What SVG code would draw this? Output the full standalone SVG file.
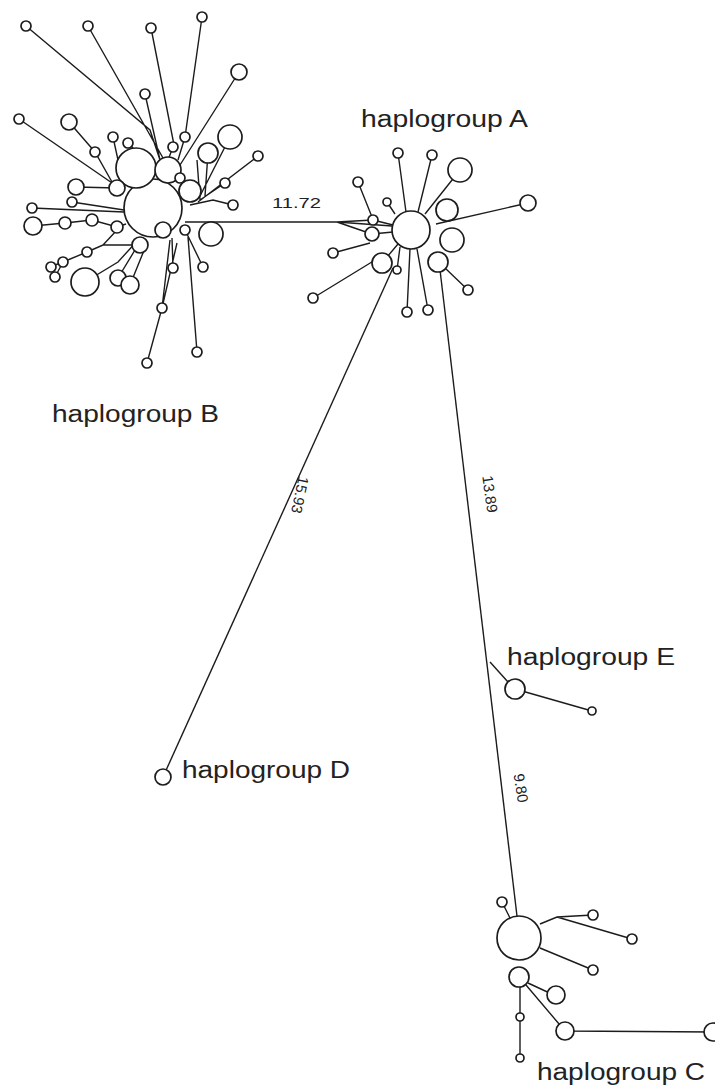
<svg xmlns="http://www.w3.org/2000/svg" width="715" height="1091" viewBox="0 0 715 1091">
<style>
.e{stroke:#1c1c1c;stroke-width:1.4;fill:none}
.n circle{fill:#fff;stroke:#1c1c1c;stroke-width:1.7}
.lab{font-family:"Liberation Sans",Arial,sans-serif;font-size:23px;fill:#222}
.num{font-family:"Liberation Sans",Arial,sans-serif;font-size:15px;fill:#222}
</style>
<rect width="715" height="1091" fill="#fff"/>
<g id="connectors" class="e">
<path d="M185,222 L337,222 L373,220 M337,222 L366,232 M337,222 L392,226"/>
<path d="M393,268 L163,777"/>
<path d="M440,270 L517,916"/>
<path d="M490,662 L508,682"/>
<path d="M398,153 L406,212 M432,155 L418,212 M460,170 L425,214 M528,203 L436,224 M445,268 L468,290 M407,312 L410,249 M428,310 L417,249 M333,253 L370,243 M313,298 L380,257 M358,182 L372,217 M387,202 L395,214 M373,220 L393,225 M372,234 L393,232 M397,270 L400,247 M382,263 L398,244"/>
<path d="M26,26 L150,130 L160,160 M88,26 L163,158 M151,28 L175,150 M202,17 L185,137 L178,160 M239,72 L180,165 M145,94 L160,160"/>
<path d="M19,119 L115,185 M69,122 L95,152 L112,182 M113,137 L118,160 M128,143 L135,150 M173,147 L168,160"/>
<path d="M230,137 L200,196 M208,153 L205,196 M197,160 L200,200 M258,156 L198,202 M225,183 L200,200 M233,205 L213,200 L190,205 M180,178 L185,190"/>
<path d="M76,187 L117,188 M72,202 L124,210 M32,208 L124,212 M33,226 L65,223 L92,220 L117,227 L126,224"/>
<path d="M87,252 L103,245 L140,245 M103,245 L117,230 M63,262 L87,252 M50,267 L63,262 M55,277 L63,262 M85,282 L118,262 L138,240 M118,278 L135,250 M130,285 L145,248"/>
<path d="M147,363 L162,308 L177,243 M162,308 L170,240 M197,352 L188,237 M203,267 L187,234 M173,268 L172,238 M163,230 L155,236"/>
<path d="M515,689 L592,711"/>
<path d="M502,902 L510,918 M540,924 L557,917 L593,915 M557,917 L632,939 M540,948 L593,970 M528,983 L556,996 M526,985 L565,1031 L713,1032 M520,987 L520,1058"/>
</g>
<g class="n">
<g id="A0"><circle cx="411" cy="230" r="19"/></g>
<g id="A1"><circle cx="398" cy="153" r="5"/></g>
<g id="A2"><circle cx="432" cy="155" r="5"/></g>
<g id="A3"><circle cx="460" cy="170" r="12"/></g>
<g id="A4"><circle cx="528" cy="203" r="8"/></g>
<g id="A5"><circle cx="447" cy="210" r="11"/></g>
<g id="A6"><circle cx="452" cy="240" r="12"/></g>
<g id="A7"><circle cx="438" cy="262" r="10"/></g>
<g id="A8"><circle cx="468" cy="290" r="5"/></g>
<g id="A9"><circle cx="407" cy="312" r="5"/></g>
<g id="A10"><circle cx="428" cy="310" r="5"/></g>
<g id="A11"><circle cx="382" cy="263" r="10"/></g>
<g id="A12"><circle cx="397" cy="270" r="4"/></g>
<g id="A13"><circle cx="333" cy="253" r="5"/></g>
<g id="A14"><circle cx="313" cy="298" r="5"/></g>
<g id="A15"><circle cx="358" cy="182" r="5"/></g>
<g id="A16"><circle cx="387" cy="202" r="4"/></g>
<g id="A17"><circle cx="373" cy="220" r="5"/></g>
<g id="A18"><circle cx="372" cy="234" r="7"/></g>
<g id="B0"><circle cx="153" cy="208" r="29"/></g>
<g id="B1"><circle cx="136" cy="168" r="20"/></g>
<g id="B2"><circle cx="168" cy="170" r="13"/></g>
<g id="B3"><circle cx="26" cy="26" r="5"/></g>
<g id="B4"><circle cx="88" cy="26" r="5"/></g>
<g id="B5"><circle cx="151" cy="28" r="5"/></g>
<g id="B6"><circle cx="202" cy="17" r="5"/></g>
<g id="B7"><circle cx="239" cy="72" r="8"/></g>
<g id="B8"><circle cx="145" cy="94" r="5"/></g>
<g id="B9"><circle cx="19" cy="119" r="5"/></g>
<g id="B10"><circle cx="69" cy="122" r="8"/></g>
<g id="B11"><circle cx="95" cy="152" r="5"/></g>
<g id="B12"><circle cx="113" cy="137" r="5"/></g>
<g id="B13"><circle cx="128" cy="143" r="5"/></g>
<g id="B14"><circle cx="185" cy="137" r="5"/></g>
<g id="B15"><circle cx="173" cy="147" r="5"/></g>
<g id="B16"><circle cx="230" cy="137" r="12"/></g>
<g id="B17"><circle cx="208" cy="153" r="10"/></g>
<g id="B18"><circle cx="258" cy="156" r="5"/></g>
<g id="B19"><circle cx="180" cy="178" r="5"/></g>
<g id="B20"><circle cx="225" cy="183" r="5"/></g>
<g id="B21"><circle cx="117" cy="188" r="8"/></g>
<g id="B22"><circle cx="76" cy="187" r="8"/></g>
<g id="B23"><circle cx="190" cy="191" r="11"/></g>
<g id="B24"><circle cx="72" cy="202" r="5"/></g>
<g id="B25"><circle cx="233" cy="205" r="5"/></g>
<g id="B26"><circle cx="32" cy="208" r="5"/></g>
<g id="B27"><circle cx="33" cy="226" r="9"/></g>
<g id="B28"><circle cx="65" cy="223" r="6"/></g>
<g id="B29"><circle cx="92" cy="220" r="6"/></g>
<g id="B30"><circle cx="117" cy="227" r="6"/></g>
<g id="B31"><circle cx="163" cy="230" r="8"/></g>
<g id="B32"><circle cx="185" cy="230" r="5"/></g>
<g id="B33"><circle cx="211" cy="234" r="12"/></g>
<g id="B34"><circle cx="140" cy="245" r="8"/></g>
<g id="B35"><circle cx="87" cy="252" r="5"/></g>
<g id="B36"><circle cx="63" cy="262" r="5"/></g>
<g id="B37"><circle cx="51" cy="267" r="5"/></g>
<g id="B38"><circle cx="55" cy="277" r="5"/></g>
<g id="B39"><circle cx="85" cy="282" r="14"/></g>
<g id="B40"><circle cx="118" cy="278" r="8"/></g>
<g id="B41"><circle cx="130" cy="285" r="9"/></g>
<g id="B42"><circle cx="173" cy="268" r="5"/></g>
<g id="B43"><circle cx="203" cy="267" r="5"/></g>
<g id="B44"><circle cx="162" cy="308" r="5"/></g>
<g id="B45"><circle cx="147" cy="363" r="5"/></g>
<g id="B46"><circle cx="197" cy="352" r="5"/></g>
<g id="D0"><circle cx="163" cy="777" r="8"/></g>
<g id="E0"><circle cx="515" cy="689" r="10"/></g>
<g id="E1"><circle cx="592" cy="711" r="4"/></g>
<g id="C0"><circle cx="519" cy="938" r="22"/></g>
<g id="C1"><circle cx="502" cy="902" r="5"/></g>
<g id="C2"><circle cx="593" cy="915" r="5"/></g>
<g id="C3"><circle cx="632" cy="939" r="5"/></g>
<g id="C4"><circle cx="593" cy="970" r="5"/></g>
<g id="C5"><circle cx="519" cy="977" r="10"/></g>
<g id="C6"><circle cx="556" cy="995" r="9"/></g>
<g id="C7"><circle cx="565" cy="1031" r="9"/></g>
<g id="C8"><circle cx="713" cy="1032" r="9"/></g>
<g id="C9"><circle cx="520" cy="1017" r="4"/></g>
<g id="C10"><circle cx="520" cy="1058" r="4"/></g>
</g>
<g id="labels">
<text class="lab" x="361" y="127" textLength="167" lengthAdjust="spacingAndGlyphs">haplogroup A</text>
<text class="lab" x="52" y="422" textLength="167" lengthAdjust="spacingAndGlyphs">haplogroup B</text>
<text class="lab" x="182" y="778" textLength="168" lengthAdjust="spacingAndGlyphs">haplogroup D</text>
<text class="lab" x="507" y="665" textLength="168" lengthAdjust="spacingAndGlyphs">haplogroup E</text>
<text class="lab" x="537" y="1080" textLength="168" lengthAdjust="spacingAndGlyphs">haplogroup C</text>
<text class="num" x="272" y="208" textLength="49" lengthAdjust="spacingAndGlyphs">11.72</text>
<text class="num" transform="translate(300,495) rotate(102)" text-anchor="middle" dy="0.35em">15.93</text>
<text class="num" transform="translate(490,494) rotate(82)" text-anchor="middle" dy="0.35em">13.89</text>
<text class="num" transform="translate(521,788) rotate(81)" text-anchor="middle" dy="0.35em">9.80</text>
</g>
</svg>
